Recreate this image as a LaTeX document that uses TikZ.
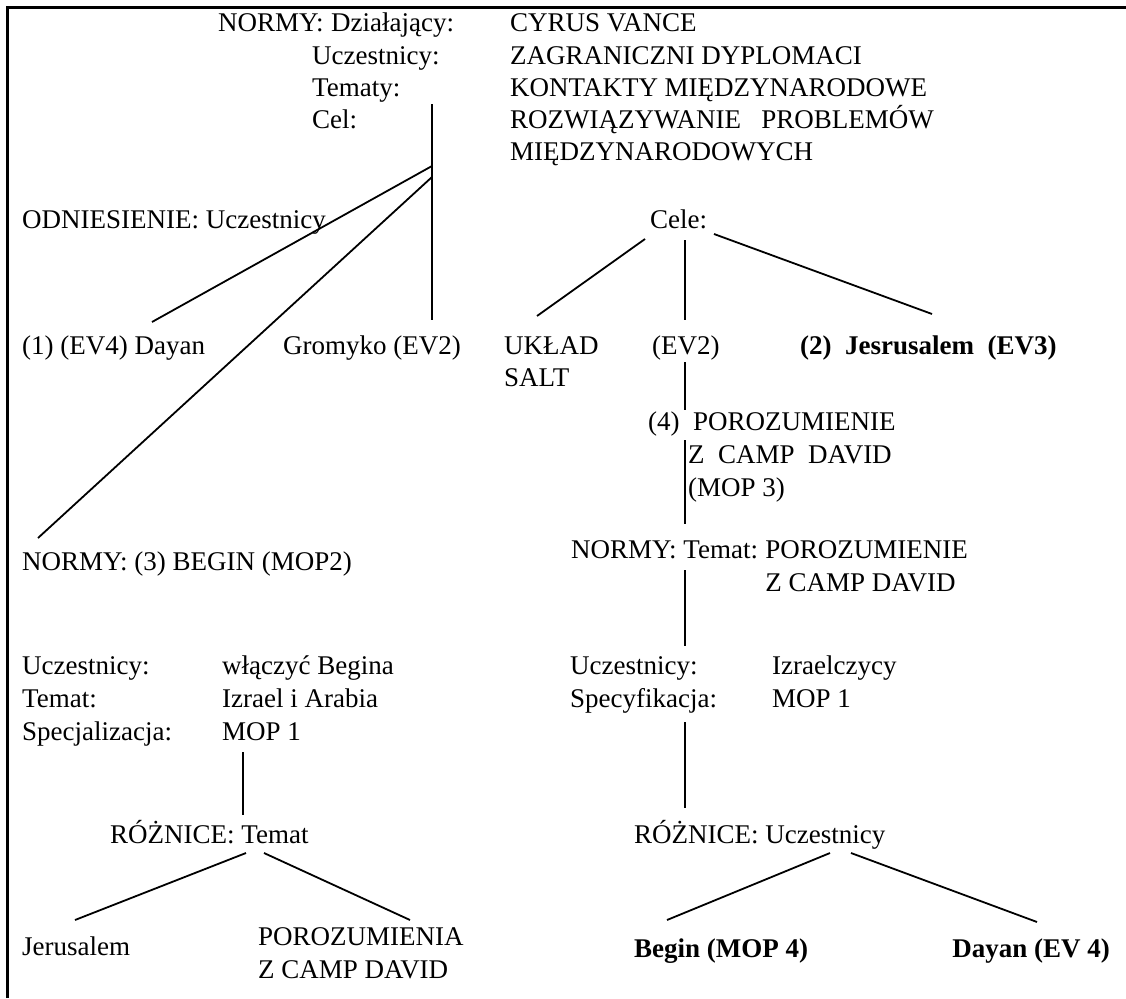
\documentclass[tikz,border=0pt]{standalone}
\usepackage{fontspec}
\setmainfont{Liberation Serif}
\usetikzlibrary{calc}
\begin{document}
\begin{tikzpicture}[x=1pt,y=-1pt,
  txt/.style={anchor=base west,inner sep=0pt,font=\fontsize{27}{33}\selectfont},
  btxt/.style={txt,font=\fontsize{27}{33}\selectfont\bfseries},
  link/.style={line width=1.8pt},
  thicklink/.style={line width=2.6pt},
  frame/.style={line width=3pt}]
\useasboundingbox (0,0) rectangle (1126,998);
% page frame (left and top edges)
\draw[frame] (7.5,998) -- (7.5,7.5) -- (1126,7.5);

% top norms block
\node[txt] (normy) at (218,32) {NORMY:};
\node[txt] (dzial) at ($(normy.base east)+(7,0)$) {Działający:};
\node[txt] (uczT) at (312,64) {Uczestnicy:};
\node[txt] (temT) at (312,96) {Tematy:};
\node[txt] (celT) at (312,128) {Cel:};
\node[txt] (cyrus) at (510,32) {CYRUS VANCE};
\node[txt] (zagr) at (510,64) {ZAGRANICZNI DYPLOMACI};
\node[txt] (kont) at (510,96) {KONTAKTY MIĘDZYNARODOWE};
\node[txt] (rozw) at (510,128) {ROZWIĄZYWANIE\ \ \ PROBLEMÓW};
\node[txt] (miedz) at (510,160) {MIĘDZYNARODOWYCH};

% second level
\node[txt] (odn) at (22,228) {ODNIESIENIE: Uczestnicy};
\node[txt] (cele) at (650,228) {Cele:};

\node[txt] (dayan1) at (22,354) {(1) (EV4) Dayan};
\node[txt] (grom) at (283,354) {Gromyko (EV2)};
\node[txt] (uklad) at (504,354) {UKŁAD};
\node[txt] (salt) at (504,386) {SALT};
\node[txt] (ev2) at (652,354) {(EV2)};
\node[btxt] (jes) at (800,354) {(2)\ \ Jesrusalem\ \ (EV3)};

% Camp David branch
\node[txt] (por4) at (648,430) {(4)\ \ POROZUMIENIE};
\node[txt] (zcd1) at (688,463) {Z\ \ CAMP\ \ DAVID};
\node[txt] (mop3) at (688,496) {(MOP 3)};
\node[txt] (normyR) at (571,558) {NORMY: Temat:};
\node[txt] (porR) at ($(normyR.base east)+(7,0)$) {POROZUMIENIE};
\node[txt] (zcd2) at ($(porR.base west)+(0,33)$) {Z CAMP DAVID};
\node[txt] (ucR) at (570,674) {Uczestnicy:};
\node[txt] (izr) at (772,674) {Izraelczycy};
\node[txt] (specR) at (570,707) {Specyfikacja:};
\node[txt] (mop1R) at (772,707) {MOP 1};
\node[txt] (rozR) at (634,843) {RÓŻNICE: Uczestnicy};
\node[btxt] (beg4) at (634,957) {Begin (MOP 4)};
\node[btxt,anchor=base east] (day4) at (1110,957) {Dayan (EV 4)};

% Begin branch
\node[txt] (normyL) at (22,570) {NORMY: (3) BEGIN (MOP2)};
\node[txt] (ucL) at (22,674) {Uczestnicy:};
\node[txt] (wlacz) at (222,674) {włączyć Begina};
\node[txt] (temL) at (22,707) {Temat:};
\node[txt] (izar) at (222,707) {Izrael i Arabia};
\node[txt] (specL) at (22,740) {Specjalizacja:};
\node[txt] (mop1L) at (222,740) {MOP 1};
\node[txt] (rozL) at (110,843) {RÓŻNICE: Temat};
\node[txt] (jer) at (22,955) {Jerusalem};
\node[txt] (porA) at (258,945) {POROZUMIENIA};
\node[txt] (zcd3) at (258,978) {Z CAMP DAVID};

% connector end points
\coordinate (celTop) at (432,104);
\coordinate (jA) at (432,166);
\coordinate (jB) at (432,177);
\coordinate (gromTop) at (432,320);
\coordinate (dayTop) at (152,322);
\coordinate (begTop) at (38,538);

\coordinate (celeA) at (645,239);
\coordinate (celeB) at (685,240);
\coordinate (celeC) at (714,234);
\coordinate (ukTop) at (537,316);
\coordinate (evTop) at (685,320);
\coordinate (jesTop) at (932,314);

\coordinate (evBot) at (685,362);
\coordinate (porTop) at (685,410);
\coordinate (porIn) at (685,440);
\coordinate (mopBot) at (685,524);
\coordinate (normyBot) at (685,570);
\coordinate (ucRTop) at (685,646);
\coordinate (specRBot) at (685,722);
\coordinate (rozRTop) at (685,808);

\coordinate (rozRA) at (830,853);
\coordinate (rozRB) at (851,853);
\coordinate (begTopR) at (667,920);
\coordinate (dayTopR) at (1037,922);

\coordinate (mopLBot) at (243,752);
\coordinate (rozLTop) at (243,815);
\coordinate (rozLA) at (246,853);
\coordinate (rozLB) at (264,853);
\coordinate (jerTop) at (75,920);
\coordinate (porATop) at (410,920);

% connectors
\draw[link] (celTop) -- (gromTop);
\draw[link] (jA) -- (dayTop);
\draw[link] (jB) -- (begTop);

\draw[link] (celeA) -- (ukTop);
\draw[link] (celeB) -- (evTop);
\draw[link] (celeC) -- (jesTop);

\draw[link] (evBot) -- (porTop);
\draw[link] (porIn) -- (mopBot);
\draw[link] (normyBot) -- (ucRTop);
\draw[link] (specRBot) -- (rozRTop);
\draw[link] (rozRA) -- (begTopR);
\draw[link] (rozRB) -- (dayTopR);

\draw[thicklink] (mopLBot) -- (rozLTop);
\draw[link] (rozLA) -- (jerTop);
\draw[link] (rozLB) -- (porATop);
\end{tikzpicture}
\end{document}
